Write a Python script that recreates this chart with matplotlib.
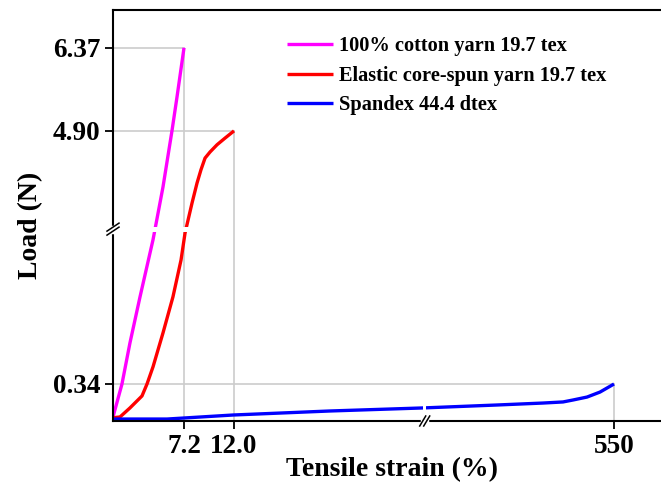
import numpy as np
import matplotlib
matplotlib.use("Agg")
import matplotlib.pyplot as plt

plt.rcParams["font.family"] = ["Liberation Serif", "DejaVu Serif"]
plt.rcParams["font.weight"] = "bold"

# ── data (strain %, load N) ───────────────────────────────
cotton_strain = [0.0, 0.91, 1.72, 2.74, 4.06, 5.07, 5.98, 6.49, 7.2]
cotton_load   = [0.037, 0.34, 1.08, 1.91, 2.94, 3.89, 4.90, 5.50, 6.37]

elastic_strain = [0.0, 0.71, 1.72, 2.94, 3.45, 4.06, 5.07, 6.08, 6.90,
                  7.30, 7.97, 8.45, 8.83, 9.22, 9.70, 10.37, 11.14, 12.0]
elastic_load   = [0.03, 0.037, 0.12, 0.23, 0.34, 0.65, 1.26, 1.91, 2.575,
                  3.06, 3.60, 3.96, 4.20, 4.41, 4.52, 4.65, 4.77, 4.90]

spandex_strain = [0.0, 5.48, 11.9, 147.9, 279.6, 384.4, 416.9, 449.5,
                  477.8, 492.0, 511.8, 530.2, 550.0]
spandex_load   = [0.018, 0.018, 0.055, 0.092, 0.12, 0.147, 0.156, 0.165,
                  0.175, 0.193, 0.22, 0.266, 0.34]

labels = ["100% cotton yarn 19.7 tex",
          "Elastic core-spun yarn 19.7 tex",
          "Spandex 44.4 dtex"]
colors = ["#ff00ff", "#ff0000", "#0000ff"]

# ── broken-axis scale nodes (value -> relative length) ────
X_NODES = [0.0, 7.2, 12.0, 550.0]
X_LEN   = [0.0, 71.0, 121.0, 501.0]
Y_NODES = [0.0, 0.34, 4.90, 6.37]
Y_LEN   = [0.0, 37.0, 290.0, 373.0]
X_BREAK = 282.0
Y_BREAK = 3.13


def piecewise(v, xp, fp):
    v = np.asarray(v, dtype=float)
    out = np.interp(v, xp, fp)
    lo = v < xp[0]
    hi = v > xp[-1]
    out = np.where(lo, fp[0] + (v - xp[0]) * (fp[1] - fp[0]) / (xp[1] - xp[0]), out)
    out = np.where(hi, fp[-1] + (v - xp[-1]) * (fp[-1] - fp[-2]) / (xp[-1] - xp[-2]), out)
    return out


fig = plt.figure(figsize=(6.61, 4.90), dpi=100)
ax = fig.add_axes([113 / 661, 69 / 490, 548 / 661, 411 / 490])

ax.set_xscale("function", functions=(lambda v: piecewise(v, X_NODES, X_LEN),
                                     lambda v: piecewise(v, X_LEN, X_NODES)))
ax.set_yscale("function", functions=(lambda v: piecewise(v, Y_NODES, Y_LEN),
                                     lambda v: piecewise(v, Y_LEN, Y_NODES)))

curves = [(cotton_strain, cotton_load),
          (elastic_strain, elastic_load),
          (spandex_strain, spandex_load)]

# grey guide lines to the breaking points
for xs, ys in curves:
    ax.plot([0, xs[-1]], [ys[-1], ys[-1]], color="#cccccc", lw=1.2, zorder=1)
    ax.plot([xs[-1], xs[-1]], [0, ys[-1]], color="#cccccc", lw=1.2, zorder=1)

for (xs, ys), lab, c in zip(curves, labels, colors):
    ax.plot(xs, ys, color=c, lw=2.4, label=lab, zorder=2,
            solid_capstyle="butt", solid_joinstyle="round")

ax.set_xlim(0, 616.5)
ax.set_ylim(0, 7.04)

# gaps in the curves at the axis breaks
ax.fill_between([3.8, 8.2], Y_BREAK - 0.045, Y_BREAK + 0.045, color="white", lw=0, zorder=3)
ax.fill_between([X_BREAK - 2.5, X_BREAK + 2.5], 0.06, 0.18, color="white", lw=0, zorder=3)

ax.set_xticks([cotton_strain[-1], elastic_strain[-1], spandex_strain[-1]])
ax.set_xticklabels(["7.2", "12.0", "550"])
ax.set_yticks([spandex_load[-1], elastic_load[-1], cotton_load[-1]])
ax.set_yticklabels(["0.34", "4.90", "6.37"])
ax.xaxis.set_minor_locator(matplotlib.ticker.NullLocator())
ax.yaxis.set_minor_locator(matplotlib.ticker.NullLocator())
ax.tick_params(direction="out", length=6, width=1.3, labelsize=19.5, pad=3)

for s in ["left", "top", "bottom"]:
    ax.spines[s].set_linewidth(1.5)
ax.spines["right"].set_visible(False)

ax.set_xlabel("Tensile strain (%)", fontsize=20, fontweight="bold")
ax.set_ylabel("Load (N)", fontsize=20, fontweight="bold")
ax.xaxis.set_label_coords(0.509, -0.088)
ax.yaxis.set_label_coords(-0.128, 0.477)

# break marks "//"
to_ax = ax.transAxes.inverted()
bx = to_ax.transform(ax.transData.transform((X_BREAK, 0)))[0]
by = to_ax.transform(ax.transData.transform((0, Y_BREAK)))[1]
pw, ph = 548.0, 411.0
ax.plot([bx - 2.5 / pw, bx + 2.5 / pw], [0, 0], color="white", lw=2.5,
        transform=ax.transAxes, clip_on=False, zorder=5)
ax.plot([0, 0], [by - 2.5 / ph, by + 2.5 / ph], color="white", lw=2.5,
        transform=ax.transAxes, clip_on=False, zorder=5)
for d in (-2.0, 2.0):
    ax.plot([bx + (d - 3) / pw, bx + (d + 3) / pw], [-5 / ph, 5 / ph], color="black",
            lw=1.1, transform=ax.transAxes, clip_on=False, zorder=6)
    ax.plot([-6 / pw, 6 / pw], [by + (d - 4) / ph, by + (d + 4) / ph], color="black",
            lw=1.1, transform=ax.transAxes, clip_on=False, zorder=6)

ax.legend(loc="upper left", bbox_to_anchor=(0.3175, 0.936), frameon=False,
          prop={"family": "Liberation Serif", "weight": "bold", "size": 14.7},
          handlelength=2.25, handletextpad=0.3, labelspacing=0.47,
          borderpad=0, borderaxespad=0)

fig.savefig("out.png", dpi=100)
